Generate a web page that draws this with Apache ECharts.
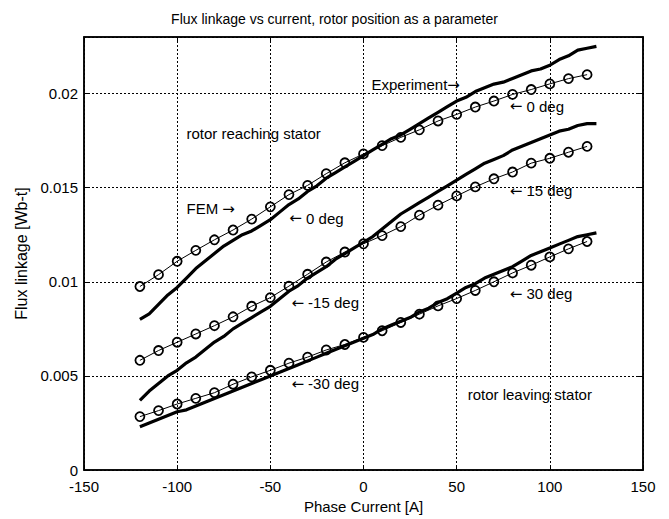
<!DOCTYPE html>
<html>
<head>
<meta charset="utf-8">
<script src="https://cdn.jsdelivr.net/npm/echarts@6/dist/echarts.min.js"></script>
<style>
html,body{margin:0;padding:0;background:#fff;}
#chart{width:669px;height:519px;}
</style>
</head>
<body>
<div id="chart"></div>
<script>
// ---- data ----
const titleText = "Flux linkage vs current, rotor position as a parameter";
const xAxisName = "Phase Current [A]";
const yAxisName = "Flux linkage [Wb-t]";
const xTicks = [-150, -100, -50, 0, 50, 100, 150];
const yTicks = [0, 0.005, 0.01, 0.015, 0.02];

// FEM current points [A]
const femCurrent = [-120,-110,-100,-90,-80,-70,-60,-50,-40,-30,-20,-10,0,10,20,30,40,50,60,70,80,90,100,110,120];
const fem0 = [0.00975,0.01038,0.01109,0.01167,0.01223,0.01275,0.01333,0.01398,0.01463,0.01512,0.01574,0.01632,0.01679,0.01723,0.01767,0.01807,0.01854,0.01889,0.01928,0.01960,0.01995,0.02021,0.02051,0.02079,0.02100];
const fem15 = [0.00583,0.00635,0.00679,0.00723,0.00767,0.00814,0.00870,0.00916,0.00977,0.01040,0.01105,0.01158,0.01202,0.01245,0.01293,0.01354,0.01407,0.01456,0.01504,0.01547,0.01583,0.01630,0.01656,0.01688,0.01719];
const fem30 = [0.00284,0.00316,0.00351,0.00381,0.00411,0.00456,0.00495,0.00530,0.00568,0.00600,0.00638,0.00667,0.00705,0.00740,0.00784,0.00828,0.00872,0.00911,0.00954,0.01000,0.01047,0.01088,0.01132,0.01175,0.01214];

// Experiment current points [A]
const expCurrent = [-120,-115,-110,-105,-100,-95,-90,-85,-80,-75,-70,-65,-60,-55,-50,-45,-40,-35,-30,-25,-20,-15,-10,-5,0,5,10,15,20,25,30,35,40,45,50,55,60,65,70,75,80,85,90,95,100,105,110,115,120,125];
const exp0 = [0.0080,0.0083,0.0088,0.0093,0.0097,0.0102,0.0107,0.0111,0.0115,0.0119,0.0122,0.0125,0.0127,0.0130,0.0133,0.0137,0.0141,0.0144,0.0148,0.0151,0.0155,0.0158,0.0161,0.0164,0.0167,0.0170,0.0173,0.0176,0.0178,0.0181,0.0184,0.0187,0.0190,0.0193,0.0196,0.0198,0.0201,0.0203,0.0205,0.0206,0.0208,0.0210,0.0212,0.0213,0.0215,0.0218,0.0220,0.0223,0.0224,0.0225];
const exp15 = [0.0037,0.0042,0.0046,0.0050,0.0053,0.0057,0.0060,0.0064,0.0068,0.0071,0.0075,0.0078,0.0081,0.0084,0.0087,0.0091,0.0095,0.0098,0.0102,0.0105,0.0108,0.0112,0.0115,0.0118,0.0121,0.0124,0.0128,0.0132,0.0136,0.0139,0.0142,0.0145,0.0148,0.0151,0.0154,0.0157,0.0160,0.0163,0.0165,0.0167,0.0170,0.0172,0.0174,0.0176,0.0178,0.0180,0.0181,0.0183,0.0184,0.0184];
const exp30 = [0.0023,0.0025,0.0027,0.0029,0.0031,0.0032,0.0034,0.0036,0.0038,0.0040,0.0042,0.0044,0.0046,0.0048,0.0050,0.0052,0.0054,0.0056,0.0058,0.0060,0.0062,0.0064,0.0066,0.0068,0.0070,0.0072,0.0075,0.0077,0.0079,0.0081,0.0084,0.0086,0.0089,0.0091,0.0094,0.0097,0.0099,0.0102,0.0104,0.0106,0.0108,0.0111,0.0114,0.0116,0.0118,0.0120,0.0122,0.0124,0.0125,0.0126];

// annotations: text and anchor in data coordinates [A, Wb-t]
const annoText = ["Experiment\u2192", "\u2190 0 deg", "rotor reaching stator", "FEM \u2192", "\u2190 0 deg", "\u2190 15 deg", "\u2190 -15 deg", "\u2190 -30 deg", "\u2190 30 deg", "rotor leaving stator"];
const annoX = [4.3, 78.5, -95, -95, -39.8, 78.5, -38.7, -38.7, 78.5, 55.9];
const annoY = [0.02047, 0.01932, 0.01789, 0.01389, 0.01337, 0.01484, 0.00889, 0.00458, 0.00937, 0.0040];

// ---- chart ----
const FONT = "'Liberation Sans', Arial, Helvetica, sans-serif";
const zip = (xs, ys) => xs.map((x, i) => [x, ys[i]]);
const chart = echarts.init(document.getElementById('chart'), null, {renderer: 'svg'});

function femSeries(name, ys) {
  return {
    name, type: 'line', data: zip(femCurrent, ys), z: 3,
    symbol: 'circle', symbolSize: 9, showSymbol: true,
    lineStyle: {color: '#000', width: 1},
    itemStyle: {color: 'rgba(255,255,255,0)', borderColor: '#000', borderWidth: 1.8},
    emphasis: {disabled: true}, animation: false
  };
}
function expSeries(name, ys) {
  return {
    name, type: 'line', data: zip(expCurrent, ys), z: 2,
    showSymbol: false, symbol: 'none',
    lineStyle: {color: '#000', width: 3.2},
    emphasis: {disabled: true}, animation: false
  };
}

const axisCommon = {
  axisLine: {show: true, onZero: false, lineStyle: {color: '#000', width: 1.5}},
  axisTick: {show: true, inside: true, length: 5, lineStyle: {color: '#000', width: 1}},
  axisLabel: {color: '#000', fontFamily: FONT, fontSize: 15},
};

chart.setOption({
  animation: false,
  backgroundColor: '#fff',
  title: {
    text: titleText, left: 'center', top: 7,
    textStyle: {fontFamily: FONT, fontSize: 14, fontWeight: 'normal', color: '#000'}
  },
  grid: {left: 84, right: 26, top: 37, bottom: 45, show: true, borderColor: '#000', borderWidth: 1.5, backgroundColor: 'transparent'},
  xAxis: [
    Object.assign({}, axisCommon, {
      type: 'value', min: xTicks[0], max: xTicks[xTicks.length - 1], interval: 50,
      name: xAxisName, nameLocation: 'middle', nameGap: 27,
      nameTextStyle: {fontFamily: FONT, fontSize: 15, color: '#000'},
      axisLabel: Object.assign({}, axisCommon.axisLabel, {margin: 9}),
      splitLine: {show: true, lineStyle: {color: '#000', width: 1, type: [2, 2]}}
    }),
    Object.assign({}, axisCommon, {
      type: 'value', position: 'top', min: xTicks[0], max: xTicks[xTicks.length - 1], interval: 50,
      axisLabel: {show: false}, splitLine: {show: false}
    })
  ],
  yAxis: [
    Object.assign({}, axisCommon, {
      type: 'value', min: yTicks[0], max: 0.023, interval: 0.005,
      name: yAxisName, nameLocation: 'middle', nameGap: 54,
      nameTextStyle: {fontFamily: FONT, fontSize: 16, color: '#000'},
      axisLabel: Object.assign({}, axisCommon.axisLabel, {
        margin: 6, showMaxLabel: false,
        formatter: v => (yTicks.some(t => Math.abs(t - v) < 1e-9) ? String(+v.toFixed(4)) : '')
      }),
      splitLine: {show: true, lineStyle: {color: '#000', width: 1, type: [2, 2]}}
    }),
    Object.assign({}, axisCommon, {
      type: 'value', position: 'right', min: yTicks[0], max: 0.023, interval: 0.005,
      axisLabel: {show: false}, splitLine: {show: false}
    })
  ],
  series: [
    expSeries('Experiment 0 deg', exp0),
    expSeries('Experiment 15 deg', exp15),
    expSeries('Experiment 30 deg', exp30),
    femSeries('FEM 0 deg', fem0),
    femSeries('FEM 15 deg', fem15),
    femSeries('FEM 30 deg', fem30)
  ]
});

// annotation texts placed at data coordinates; arrows drawn with a font that has full-size arrows
const elements = annoText.map((t, i) => {
  const p = chart.convertToPixel({xAxisIndex: 0, yAxisIndex: 0}, [annoX[i], annoY[i]]);
  const richText = t.replace(/([\u2190\u2192])/g, '{a|$1}');
  return {
    type: 'text', x: p[0], y: p[1], z: 10,
    style: {
      text: richText, fill: '#000', font: "15px " + FONT, textAlign: 'left', textVerticalAlign: 'middle',
      rich: {a: {fontFamily: "'DejaVu Sans'", fontSize: 15, fill: '#000'}}
    }
  };
});
chart.setOption({graphic: {elements}});
</script>
</body>
</html>
